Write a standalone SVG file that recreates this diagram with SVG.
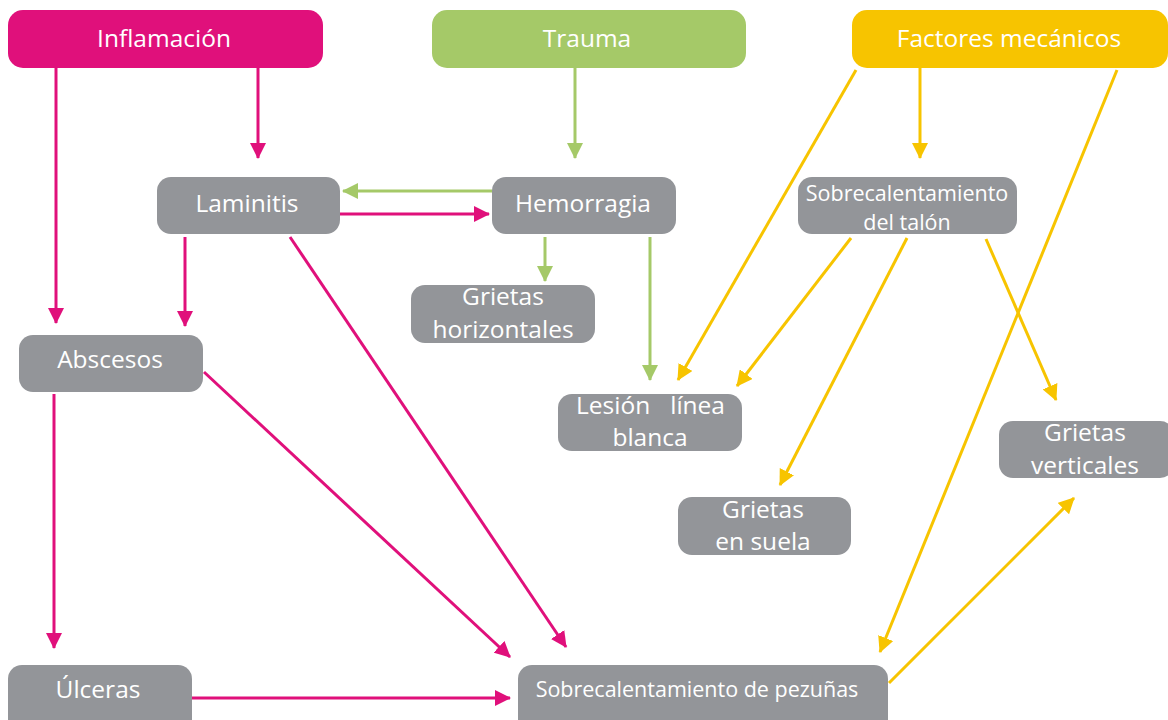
<svg xmlns="http://www.w3.org/2000/svg" width="1168" height="720" viewBox="0 0 1168 720">
<style>
.t{font-family:"Open Sans","Liberation Sans",sans-serif;fill:#fff;text-anchor:middle;font-size:24.5px}
.st{text-anchor:start}
.en{text-anchor:end}
.s{font-size:21.5px}
.g{fill:#939599}
.p{stroke:#E0107B;stroke-width:3;fill:none}
.gr{stroke:#A5C968;stroke-width:3;fill:none}
.y{stroke:#F7C400;stroke-width:3;fill:none}
</style>
<defs>
<marker id="ap" markerUnits="userSpaceOnUse" markerWidth="16" markerHeight="16" viewBox="0 0 16 16" refX="15" refY="8" orient="auto"><path d="M0,0 L16,8 L0,16 Z" fill="#E0107B"/></marker>
<marker id="ag" markerUnits="userSpaceOnUse" markerWidth="16" markerHeight="16" viewBox="0 0 16 16" refX="15" refY="8" orient="auto"><path d="M0,0 L16,8 L0,16 Z" fill="#A5C968"/></marker>
<marker id="ay" markerUnits="userSpaceOnUse" markerWidth="16" markerHeight="16" viewBox="0 0 16 16" refX="15" refY="8" orient="auto"><path d="M0,0 L16,8 L0,16 Z" fill="#F7C400"/></marker>
</defs>
<rect width="1168" height="720" fill="#fff"/>
<g id="connectors">
<line class="p" x1="56" y1="68" x2="56" y2="323" marker-end="url(#ap)"/>
<line class="p" x1="258" y1="68" x2="258" y2="158" marker-end="url(#ap)"/>
<line class="gr" x1="575" y1="68" x2="575" y2="158" marker-end="url(#ag)"/>
<line class="gr" x1="492" y1="191" x2="343" y2="191" marker-end="url(#ag)"/>
<line class="p" x1="340" y1="214" x2="489" y2="214" marker-end="url(#ap)"/>
<line class="gr" x1="545" y1="237" x2="545" y2="281" marker-end="url(#ag)"/>
<line class="gr" x1="650" y1="237" x2="650" y2="380" marker-end="url(#ag)"/>
<line class="p" x1="185" y1="237" x2="185" y2="326" marker-end="url(#ap)"/>
<line class="p" x1="290" y1="237" x2="566" y2="647" marker-end="url(#ap)"/>
<line class="p" x1="204" y1="372" x2="510" y2="657" marker-end="url(#ap)"/>
<line class="p" x1="54" y1="394" x2="54" y2="648" marker-end="url(#ap)"/>
<line class="p" x1="192" y1="698" x2="510" y2="698" marker-end="url(#ap)"/>
<line class="y" x1="856" y1="70" x2="678" y2="380" marker-end="url(#ay)"/>
<line class="y" x1="920" y1="68" x2="920" y2="158" marker-end="url(#ay)"/>
<line class="y" x1="1117" y1="70" x2="880" y2="652" marker-end="url(#ay)"/>
<line class="y" x1="851" y1="238" x2="737" y2="386" marker-end="url(#ay)"/>
<line class="y" x1="907" y1="238" x2="780" y2="485" marker-end="url(#ay)"/>
<line class="y" x1="986" y1="239" x2="1056" y2="400" marker-end="url(#ay)"/>
<line class="y" x1="889" y1="683" x2="1074" y2="498" marker-end="url(#ay)"/>
</g>
<g id="inflamacion"><rect x="8" y="10" width="315" height="58" rx="15" fill="#E0107B"/><text class="t" x="164" y="47">Inflamación</text></g>
<g id="trauma"><rect x="432" y="10" width="314" height="58" rx="15" fill="#A5C968"/><text class="t" x="587" y="47">Trauma</text></g>
<g id="factores"><rect x="852" y="10" width="316" height="58" rx="15" fill="#F7C400"/><text class="t" x="1009" y="47">Factores mecánicos</text></g>
<g id="laminitis"><rect class="g" x="157" y="177" width="183" height="57" rx="14"/><text class="t" x="247" y="212">Laminitis</text></g>
<g id="hemorragia"><rect class="g" x="492" y="177" width="184" height="57" rx="14"/><text class="t" x="583" y="212">Hemorragia</text></g>
<g id="talon"><rect class="g" x="798" y="177" width="219" height="57" rx="14"/><text class="t s" x="907" y="201">Sobrecalentamiento</text><text class="t s" x="907" y="230">del talón</text></g>
<g id="grietas-horizontales"><rect class="g" x="411" y="285" width="184" height="58" rx="14"/><text class="t" x="503" y="305">Grietas</text><text class="t" x="503" y="338">horizontales</text></g>
<g id="abscesos"><rect class="g" x="19" y="335" width="184" height="57" rx="14"/><text class="t" x="110" y="368">Abscesos</text></g>
<g id="lesion"><rect class="g" x="558" y="394" width="184" height="57" rx="14"/><text class="t st" x="576" y="414">Lesión</text><text class="t en" x="725" y="414">línea</text><text class="t" x="650" y="446">blanca</text></g>
<g id="grietas-verticales"><rect class="g" x="999" y="421" width="175" height="57" rx="14"/><text class="t" x="1085" y="441">Grietas</text><text class="t" x="1085" y="474">verticales</text></g>
<g id="grietas-suela"><rect class="g" x="678" y="497" width="173" height="58" rx="14"/><text class="t" x="763" y="518">Grietas</text><text class="t" x="763" y="550">en suela</text></g>
<g id="ulceras"><rect class="g" x="8" y="665" width="184" height="70" rx="14"/><text class="t" x="98" y="698">Úlceras</text></g>
<g id="pezunas"><rect class="g" x="518" y="665" width="370" height="70" rx="14"/><text class="t s" x="697" y="697">Sobrecalentamiento de pezuñas</text></g>
</svg>
